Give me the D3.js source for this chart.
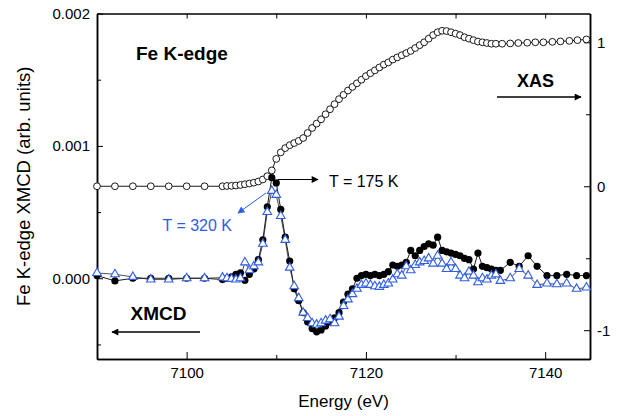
<!DOCTYPE html>
<html>
<head>
<meta charset="utf-8">
<script src="https://cdn.jsdelivr.net/npm/d3@7"></script>
<style>
  body { margin: 0; background: #fff; }
  svg { font-family: "Liberation Sans", Arial, sans-serif; }
  .axis path, .axis line { stroke: #000; }
  .axis path { stroke-width: 1.5; }
  .axis text { font-size: 15px; fill: #000; }
</style>
</head>
<body>
<div id="chart"></div>
<script>
// Fe K-edge XAS (right axis) and XMCD at two temperatures (left axis)

var xasEnergy = [7090, 7092, 7094, 7096, 7098, 7100, 7102, 7104,
  7104.5, 7105, 7105.5, 7106, 7106.5, 7107, 7107.5, 7108, 7108.5, 7109, 7109.5,
  7110, 7110.5, 7111, 7111.5, 7112, 7112.5, 7113, 7113.5, 7114, 7114.5,
  7115, 7115.5, 7116, 7116.5, 7117, 7117.5, 7118, 7118.5, 7119, 7119.5,
  7120, 7120.5, 7121, 7121.5, 7122, 7122.5, 7123, 7123.5, 7124, 7124.5,
  7125, 7125.5, 7126, 7126.5, 7127, 7127.5, 7128, 7128.5, 7129, 7129.5,
  7130, 7130.5, 7131, 7131.5, 7132, 7132.5, 7133, 7133.5, 7134, 7134.5,
  7135.2, 7136.1, 7137.0, 7138.0, 7138.9, 7139.8, 7140.8, 7141.7, 7142.7, 7143.6, 7144.6];

var xasValue = [0, 0, 0, 0, 0, 0, 0, 0,
  0.002, 0.003, 0.005, 0.009, 0.014, 0.019, 0.025, 0.033, 0.047, 0.07, 0.11,
  0.19, 0.235, 0.265, 0.285, 0.30, 0.315, 0.335, 0.37, 0.405, 0.435,
  0.465, 0.50, 0.535, 0.57, 0.605, 0.635, 0.665, 0.69, 0.715, 0.74,
  0.765, 0.785, 0.805, 0.825, 0.845, 0.86, 0.88, 0.895, 0.91, 0.925,
  0.94, 0.96, 0.98, 1.0, 1.025, 1.05, 1.07, 1.08, 1.078, 1.07,
  1.06, 1.05, 1.035, 1.025, 1.015, 1.005, 1.0, 0.995, 0.99, 0.99,
  0.99, 0.992, 0.995, 0.997, 1.0, 1.0, 1.003, 1.006, 1.01, 1.015, 1.02];

var xmcdEnergy = [7090, 7092, 7094, 7096, 7098, 7100, 7102, 7104,
  7104.5, 7105, 7105.5, 7106, 7106.5, 7107, 7107.5, 7108, 7108.5, 7109,
  7109.5, 7110, 7110.5, 7111, 7111.5, 7112, 7112.5, 7113, 7113.5, 7114,
  7114.5, 7115, 7115.5, 7116, 7116.5, 7117, 7117.5, 7118, 7118.5, 7119,
  7119.5, 7120, 7120.5, 7121, 7121.5, 7122, 7122.5, 7123, 7123.5, 7124,
  7124.5, 7125, 7125.5, 7126, 7126.5, 7127, 7127.5, 7128, 7128.5, 7129,
  7129.5, 7130, 7130.5, 7131, 7131.5, 7132, 7132.5, 7133, 7133.5, 7134,
  7134.5, 7135,
  7136.1, 7137.1, 7138.1, 7139.1, 7140.2, 7141.3, 7142.4, 7143.5, 7144.6];

// T = 175 K (filled circles)
var xmcd175 = [2e-5, -2e-5, 0, 0, 0, 0, 0, -1e-5,
  0, 1e-5, 3e-5, 4e-5, -1.5e-5, 3e-5, 7e-5, 1.4e-4, 2.9e-4, 5.4e-4,
  7.6e-4, 7.2e-4, 5.2e-4, 3.1e-4, 1.3e-4, -8e-5, -1.7e-4, -2.6e-4, -3.3e-4, -3.8e-4,
  -4.05e-4, -3.9e-4, -3.6e-4, -3.3e-4, -3.0e-4, -2.6e-4, -1.8e-4, -1.2e-4, -8e-5, 0,
  2e-5, 3e-5, 2e-5, 3e-5, 2e-5, 3e-5, 5e-5, 1.0e-4, 9e-5, 1.0e-4,
  1.2e-4, 2.1e-4, 1.7e-4, 2.1e-4, 2.4e-4, 2.6e-4, 2.5e-4, 3.1e-4, 2.1e-4, 2.0e-4,
  1.9e-4, 1.8e-4, 1.7e-4, 1.5e-4, 1.4e-4, 7e-5, 1.9e-4, 9e-5, 8e-5, 7e-5,
  6e-5, 6e-5,
  1.2e-4, 9e-5, 1.7e-4, 9e-5, 2e-5, 2e-5, 3e-5, 2e-5, 2e-5];

// T = 320 K (open triangles)
var xmcd320 = [4e-5, 3e-5, 1e-5, -1e-5, -1e-5, 0, 0, 5e-6,
  0, -5e-6, -1e-5, 0, 1.2e-4, 6e-5, 9e-5, 1.2e-4, 2.6e-4, 5.0e-4,
  6.6e-4, 6.3e-4, 4.7e-4, 2.9e-4, 8e-5, -6e-5, -1.5e-4, -2.6e-4, -3.0e-4, -3.4e-4,
  -3.5e-4, -3.4e-4, -3.2e-4, -3.1e-4, -3.4e-4, -2.9e-4, -2.1e-4, -1.6e-4, -1.2e-4, -8e-5,
  -5e-5, -4e-5, -5e-5, -6e-5, -6.5e-5, -5e-5, -4e-5, -1e-5, 3e-5, 2e-5,
  9e-5, 6e-5, 1.0e-4, 1.2e-4, 1.3e-4, 1.5e-4, 1.1e-4, 1.7e-4, 1.1e-4, 7e-5,
  1.2e-4, 7e-5, 2e-5, 0, 5e-5, 2e-5, -3e-5, 0, -1e-5, 2e-5,
  3e-5, -2e-5,
  0, 7e-5, 2e-5, -5e-5, -4e-5, -4.5e-5, -4e-5, -8e-5, -7e-5];

var xMajor = [7100, 7120, 7140];
var xMinor = [7090, 7110, 7130];
var yLeftMajor = [0, 0.001, 0.002];
var yLeftMinor = [-0.0005, 0.0005, 0.0015];
var yRightMajor = [-1, 0, 1];
var yRightMinor = [-0.5, 0.5];

var blue = "#2f5de6";

var margin = {top: 13.5, right: 28, bottom: 57, left: 97},
    width = 618 - margin.left - margin.right,
    height = 416 - margin.top - margin.bottom;

var svg = d3.select("#chart").append("svg")
    .attr("width", 618)
    .attr("height", 416);

var defs = svg.append("defs");
function arrowMarker(id, color) {
  defs.append("marker")
      .attr("id", id)
      .attr("viewBox", "0 0 10 10")
      .attr("refX", 9).attr("refY", 5)
      .attr("markerUnits", "userSpaceOnUse")
      .attr("markerWidth", 9).attr("markerHeight", 7)
      .attr("orient", "auto")
    .append("path")
      .attr("d", "M0,0 L10,5 L0,10 z")
      .attr("fill", color);
}
arrowMarker("arrowBlack", "#000");
arrowMarker("arrowBlue", blue);

var g = svg.append("g").attr("transform", "translate(" + margin.left + "," + margin.top + ")");

var x = d3.scaleLinear().domain([7090, 7145]).range([0, width]);
var yL = d3.scaleLinear().domain([-0.00061, 0.002]).range([height, 0]);
var yR = d3.scaleLinear().domain([-1.2, 1.2]).range([height, 0]);

// axes: ticks point inwards
g.append("g").attr("class", "axis")
    .attr("transform", "translate(0," + height + ")")
    .call(d3.axisBottom(x).tickValues(xMajor).tickFormat(d3.format("d"))
      .tickSizeInner(-7).tickSizeOuter(0).tickPadding(8));
g.append("g").attr("class", "axis")
    .attr("transform", "translate(0," + height + ")")
    .call(d3.axisBottom(x).tickValues(xMinor).tickSizeInner(-4).tickSizeOuter(0).tickFormat(""));
g.append("g").attr("class", "axis")
    .call(d3.axisTop(x).tickValues(xMajor.concat(xMinor)).tickSizeInner(-5).tickSizeOuter(0).tickFormat(""));

g.append("g").attr("class", "axis")
    .call(d3.axisLeft(yL).tickValues(yLeftMajor).tickFormat(d3.format(".3f")).tickSizeInner(-6).tickSizeOuter(0).tickPadding(7));
g.append("g").attr("class", "axis")
    .call(d3.axisLeft(yL).tickValues(yLeftMinor).tickSizeInner(-4).tickSizeOuter(0).tickFormat(""));

g.append("g").attr("class", "axis")
    .attr("transform", "translate(" + width + ",0)")
    .call(d3.axisRight(yR).tickValues(yRightMajor).tickFormat(function(d) { return String(d); })
      .tickSizeInner(-6).tickSizeOuter(0).tickPadding(7));
g.append("g").attr("class", "axis")
    .attr("transform", "translate(" + width + ",0)")
    .call(d3.axisRight(yR).tickValues(yRightMinor).tickSizeInner(-4).tickSizeOuter(0).tickFormat(""));

// axis titles
g.append("text")
    .attr("x", width / 2)
    .attr("y", height + 48)
    .attr("text-anchor", "middle")
    .attr("font-size", 17)
    .text("Energy (eV)");

g.append("text")
    .attr("transform", "translate(" + (30 - margin.left) + "," + (height / 2) + ") rotate(-90)")
    .attr("text-anchor", "middle")
    .attr("font-size", 18.5)
    .text("Fe K-edge XMCD (arb. units)");

// series
var xas = xasEnergy.map(function(e, i) { return {e: e, v: xasValue[i]}; });
var t175 = xmcdEnergy.map(function(e, i) { return {e: e, v: xmcd175[i]}; });
var t320 = xmcdEnergy.map(function(e, i) { return {e: e, v: xmcd320[i]}; });

var lineR = d3.line().x(function(d) { return x(d.e); }).y(function(d) { return yR(d.v); });
var lineL = d3.line().x(function(d) { return x(d.e); }).y(function(d) { return yL(d.v); });

g.append("path").datum(xas)
    .attr("d", lineR).attr("fill", "none").attr("stroke", "#000").attr("stroke-width", 0.9);
g.append("path").datum(t175)
    .attr("d", lineL).attr("fill", "none").attr("stroke", "#000").attr("stroke-width", 0.9);
g.append("path").datum(t320)
    .attr("d", lineL).attr("fill", "none").attr("stroke", "#222").attr("stroke-width", 0.8);

g.append("g").selectAll("circle")
    .data(xas)
    .enter().append("circle")
      .attr("cx", function(d) { return x(d.e); })
      .attr("cy", function(d) { return yR(d.v); })
      .attr("r", 3.4)
      .attr("fill", "#fff")
      .attr("stroke", "#000")
      .attr("stroke-width", 0.9);

g.append("g").selectAll("circle")
    .data(t175)
    .enter().append("circle")
      .attr("cx", function(d) { return x(d.e); })
      .attr("cy", function(d) { return yL(d.v); })
      .attr("r", 3.6)
      .attr("fill", "#000");

g.append("g").selectAll("path")
    .data(t320)
    .enter().append("path")
      .attr("transform", function(d) { return "translate(" + x(d.e) + "," + yL(d.v) + ")"; })
      .attr("d", d3.symbol(d3.symbolTriangle).size(32))
      .attr("fill", "#fff")
      .attr("stroke", blue)
      .attr("stroke-width", 1.1);

// annotations (page pixels)
var ann = svg.append("g");
ann.append("text").attr("x", 136).attr("y", 59.5)
    .attr("font-size", 19).attr("font-weight", "bold").text("Fe K-edge");
ann.append("text").attr("x", 517).attr("y", 86.5)
    .attr("font-size", 18).attr("font-weight", "bold").text("XAS");
ann.append("line").attr("x1", 497).attr("y1", 97).attr("x2", 581).attr("y2", 97)
    .attr("stroke", "#000").attr("stroke-width", 1.3).attr("marker-end", "url(#arrowBlack)");
ann.append("text").attr("x", 130.5).attr("y", 320)
    .attr("font-size", 19).attr("font-weight", "bold").text("XMCD");
ann.append("line").attr("x1", 200).attr("y1", 332).attr("x2", 112).attr("y2", 332)
    .attr("stroke", "#000").attr("stroke-width", 1.3).attr("marker-end", "url(#arrowBlack)");
ann.append("text").attr("x", 329).attr("y", 186.5)
    .attr("font-size", 16).text("T = 175 K");
ann.append("line").attr("x1", 278).attr("y1", 179.5).attr("x2", 318).attr("y2", 179.5)
    .attr("stroke", "#000").attr("stroke-width", 1).attr("marker-end", "url(#arrowBlack)");
ann.append("text").attr("x", 162.5).attr("y", 231)
    .attr("font-size", 16).attr("fill", blue).text("T = 320 K");
ann.append("line").attr("x1", 266).attr("y1", 193).attr("x2", 238).attr("y2", 213)
    .attr("stroke", blue).attr("stroke-width", 1).attr("marker-end", "url(#arrowBlue)");
</script>
</body>
</html>
